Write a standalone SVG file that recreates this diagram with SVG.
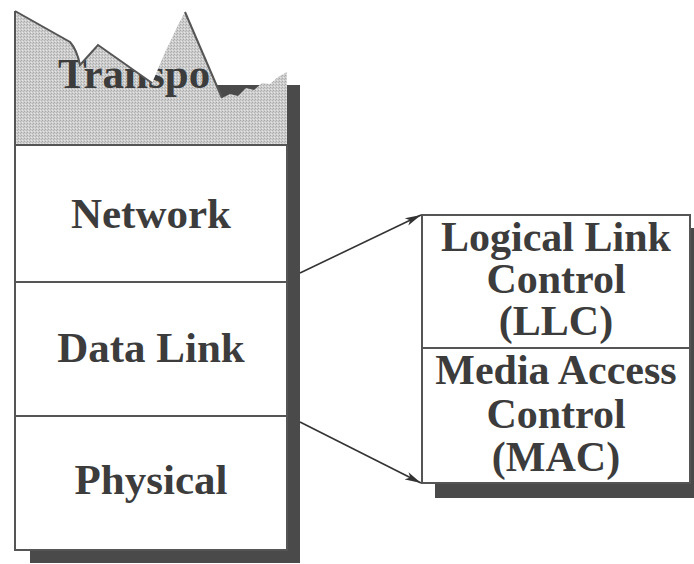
<svg xmlns="http://www.w3.org/2000/svg" width="694" height="564" viewBox="0 0 694 564">
<defs>
<style>
.lbl{font-family:"Liberation Serif","Times New Roman",serif;font-weight:bold;fill:#3c3c3c;text-anchor:middle}
.big{font-size:43px}
.med{font-size:42px}
.edge{fill:none;stroke:#555;stroke-width:2}
.shadow{fill:#4a4a4a}
.conn{fill:none;stroke:#333;stroke-width:1.6}
</style>
<pattern id="dots" width="3" height="3" patternUnits="userSpaceOnUse">
<rect width="3" height="3" fill="#cdcdcd"/>
<rect x="0" y="0" width="1" height="1" fill="#a8a8a8"/>
<rect x="2" y="1" width="1" height="1" fill="#b4b4b4"/>
<rect x="1" y="2" width="1" height="1" fill="#e6e6e6"/>
</pattern>
<clipPath id="tear">
<path d="M15,146 L15,11 L70,42 Q77,50 80,65 L98,45 L152,83 L156,74 L160,64 L166,50 L172,38 L178,25 L185,12 L222,98 L230,94 L238,96 L246,88 L254,90 L262,83 L270,84 L278,77 L287,72 L287,146 Z"/>
</clipPath>
<marker id="arr" viewBox="0 0 16 10" refX="16" refY="5" markerWidth="16" markerHeight="10" markerUnits="userSpaceOnUse" orient="auto">
<path d="M0,1 L16,5 L0,9 L4,5 Z" fill="#333"/>
</marker>
</defs>
<rect width="694" height="564" fill="#fff"/>

<g id="osi-stack">
<rect class="shadow" x="30" y="85" width="270" height="478"/>
<rect x="15" y="145" width="272" height="405" fill="#fff"/>
<g id="transport">
<path d="M15,146 L15,11 L70,42 Q77,50 80,65 L98,45 L152,83 L156,74 L160,64 L166,50 L172,38 L178,25 L185,12 L222,98 L230,94 L238,96 L246,88 L254,90 L262,83 L270,84 L278,77 L287,72 L287,146 Z" fill="url(#dots)"/>
<text class="lbl big" x="58" y="88" style="text-anchor:start" clip-path="url(#tear)">Transpo</text>
<path class="edge" d="M15,11 L70,42 Q77,50 80,65 L98,45 L152,83"/>
<path class="edge" d="M185,12 L222,98"/>
</g>
<g id="network">
<text class="lbl big" x="151" y="228">Network</text>
</g>
<g id="data-link">
<text class="lbl big" x="151" y="362">Data Link</text>
</g>
<g id="physical">
<text class="lbl big" x="151" y="494">Physical</text>
</g>
<path class="edge" d="M15,11 L15,550 L287,550 L287,145"/>
<line class="edge" x1="15" y1="145" x2="287" y2="145"/>
<line class="edge" x1="15" y1="282" x2="287" y2="282"/>
<line class="edge" x1="15" y1="416" x2="287" y2="416"/>
</g>

<g id="sublayers">
<rect class="shadow" x="435" y="228" width="270" height="270"/>
<rect x="422" y="215" width="268" height="268" fill="#fff" stroke="#555" stroke-width="2"/>
<line class="edge" x1="422" y1="348" x2="690" y2="348"/>
<g id="llc">
<text class="lbl med" x="556" y="251">Logical Link</text>
<text class="lbl med" x="556" y="293">Control</text>
<text class="lbl med" x="556" y="335">(LLC)</text>
</g>
<g id="mac">
<text class="lbl med" x="556" y="384">Media Access</text>
<text class="lbl med" x="556" y="428">Control</text>
<text class="lbl med" x="556" y="471">(MAC)</text>
</g>
</g>

<g id="connectors">
<line class="conn" x1="300" y1="273" x2="421" y2="215" marker-end="url(#arr)"/>
<line class="conn" x1="300" y1="422" x2="421" y2="483" marker-end="url(#arr)"/>
</g>
</svg>
